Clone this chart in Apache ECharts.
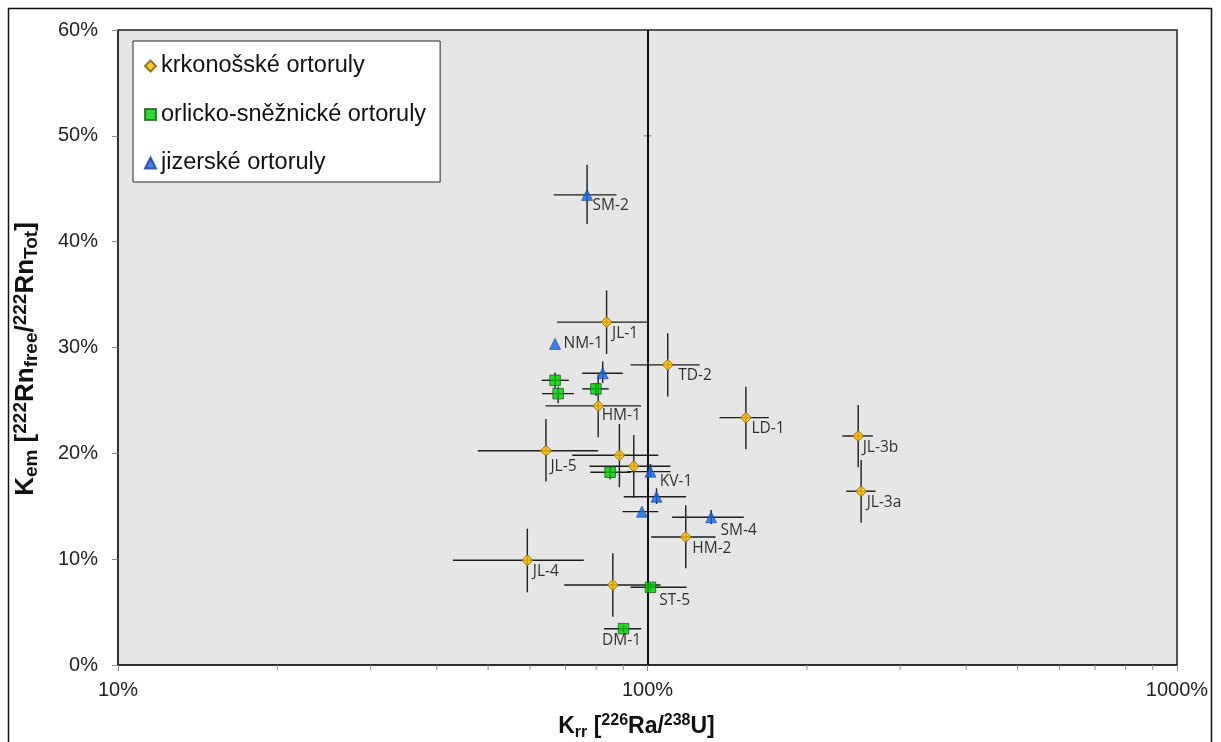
<!DOCTYPE html>
<html>
<head>
<meta charset="utf-8">
<script src="https://cdn.jsdelivr.net/npm/echarts@6/dist/echarts.min.js"></script>
<style>
  html, body { margin: 0; padding: 0; background: #fff; }
  #chart { width: 1221px; height: 742px; }
</style>
</head>
<body>
<div id="chart"></div>
<script>
// K_rr = 226Ra/238U (fraction), K_em = emanation coefficient (%)
// Each sample: centre value plus [low, high] uncertainty range (null = none)

// krkonošské ortoruly
const krkNames   = ['JL-1', 'TD-2', 'HM-1', 'LD-1', 'JL-3b', 'JL-3a', 'JL-5', '', '', 'HM-2', 'JL-4', ''];
const krkRr      = [0.837, 1.092, 0.807, 1.534, 2.50, 2.532, 0.643, 0.885, 0.942, 1.181, 0.593, 0.860];
const krkEm      = [32.4, 28.36, 24.48, 23.37, 21.64, 16.42, 20.25, 19.82, 18.78, 12.1, 9.9, 7.56];
const krkRrRange = [[0.675, 1.006], [0.929, 1.255], [0.642, 0.973], [1.368, 1.695], [2.332, 2.664], [2.373, 2.696],
                    [0.478, 0.807], [0.721, 1.048], [0.777, 1.105], [1.016, 1.344], [0.429, 0.758], [0.696, 1.058]];
const krkEmRange = [[29.4, 35.4], [25.36, 31.35], [21.52, 27.44], [20.39, 26.3], [18.69, 24.57], [13.45, 19.38],
                    [17.33, 23.25], [16.8, 22.78], [15.81, 21.74], [9.14, 15.09], [6.87, 12.88], [4.57, 10.56]];

// orlicko-sněžnické ortoruly
const orlNames   = ['', '', '', '', 'ST-5', 'DM-1'];
const orlRr      = [0.669, 0.678, 0.799, 0.850, 1.013, 0.901];
const orlEm      = [26.9, 25.64, 26.09, 18.21, 7.34, 3.43];
const orlRrRange = [[0.631, 0.710], [0.632, 0.726], [0.753, 0.845], [0.780, 0.929], [0.929, 1.185], [0.828, 0.973]];
const orlEmRange = [[26.15, 27.63], [24.73, 26.3], [25.43, 26.65], [17.55, 18.74], [7.0, 7.7], [3.1, 3.8]];

// jizerské ortoruly
const jizNames   = ['SM-2', 'NM-1', '', 'KV-1', '', '', 'SM-4'];
const jizRr      = [0.769, 0.669, 0.823, 1.013, 1.040, 0.976, 1.319];
const jizEm      = [44.42, 30.34, 27.57, 18.27, 15.9, 14.49, 13.96];
const jizRrRange = [[0.665, 0.874], null, [0.753, 0.898], [0.916, 1.105], [0.902, 1.183], [0.897, 1.048], [1.113, 1.520]];
const jizEmRange = [[41.68, 47.26], null, [26.65, 28.67], [17.8, 19.0], [15.22, 16.7], null, [13.33, 14.65]];

// axis ticks
const xMajorTicks = [0.1, 1, 10];
const xMinorTicks = [0.2, 0.3, 0.4, 0.5, 0.6, 0.7, 0.8, 0.9, 2, 3, 4, 5, 6, 7, 8, 9];
const yMax = 60, yStep = 10;
// reference line K_rr = 100 % and its tick marks
const equilibriumRr = 1;
const equilibriumTicks = [50];

// label placement tweaks per sample (pixels)
const labelNudge = {
  'NM-1': { position: 'right', offset: [2.5, 0] },
  'DM-1': { position: 'bottom', offset: [-2, -1.5] },
  'JL-5': { offset: [-1.5, 16] },
  'KV-1': { offset: [3.5, 10] },
  'TD-2': { offset: [4.5, 11] },
  'SM-4': { offset: [3.5, 13] },
  'ST-5': { offset: [3, 13] },
  'HM-2': { offset: [0.5, 12] },
  'HM-1': { offset: [-2.5, 10] },
  'JL-3b': { offset: [-1.5, 12] }
};

const C_KRK = '#FFC000', C_ORL = '#00CC00', C_JIZ = '#1466E6';
const LABEL_FONT = '"Open Sans", Lato, sans-serif';
const SANS = '"Liberation Sans", Arial, sans-serif';

function points(names, xs, ys) {
  return xs.map((x, i) => {
    const n = names[i];
    const item = { name: n, value: [x, ys[i]] };
    if (n) {
      const nudge = labelNudge[n] || {};
      item.label = {
        show: true,
        formatter: n,
        position: nudge.position || 'right',
        distance: 0,
        offset: nudge.offset || [-0.5, 11]
      };
    }
    return item;
  });
}

function bars(xs, ys, xr, yr) {
  const out = [];
  xs.forEach((x, i) => {
    const a = xr[i], b = yr[i];
    if (!a && !b) return;
    out.push([x, ys[i], a ? a[0] : x, a ? a[1] : x, b ? b[0] : ys[i], b ? b[1] : ys[i]]);
  });
  return out;
}

function renderBars(params, api) {
  const x = api.value(0), y = api.value(1);
  const xl = api.value(2), xh = api.value(3), yl = api.value(4), yh = api.value(5);
  const style = { stroke: '#1c1c1c', lineWidth: 1.4 };
  const kids = [];
  if (xl !== xh) {
    const p1 = api.coord([xl, y]), p2 = api.coord([xh, y]);
    kids.push({ type: 'line', shape: { x1: p1[0], y1: p1[1], x2: p2[0], y2: p2[1] }, style });
  }
  if (yl !== yh) {
    const p1 = api.coord([x, yl]), p2 = api.coord([x, yh]);
    kids.push({ type: 'line', shape: { x1: p1[0], y1: p1[1], x2: p2[0], y2: p2[1] }, style });
  }
  return { type: 'group', children: kids };
}

function renderMinorTick(params, api) {
  const p = api.coord([api.value(0), 0]);
  return {
    type: 'line',
    shape: { x1: p[0], y1: p[1], x2: p[0], y2: p[1] + 5 },
    style: { stroke: '#8c8c8c', lineWidth: 1 }
  };
}

function renderCrossTick(params, api) {
  const p = api.coord([api.value(0), api.value(1)]);
  return {
    type: 'line',
    shape: { x1: p[0] - 4, y1: p[1], x2: p[0] + 4, y2: p[1] },
    style: { stroke: '#8c8c8c', lineWidth: 1.2 }
  };
}

const scatterLabel = {
  fontFamily: LABEL_FONT,
  fontSize: 15.5,
  color: '#000'
};

function titleRich(big, small, lh) {
  return {
    b:   { fontFamily: SANS, fontWeight: 'bold', fontSize: big,   color: '#111', verticalAlign: 'middle', lineHeight: lh },
    sub: { fontFamily: SANS, fontWeight: 'bold', fontSize: small, color: '#111', verticalAlign: 'bottom', lineHeight: lh },
    sup: { fontFamily: SANS, fontWeight: 'bold', fontSize: small, color: '#111', verticalAlign: 'top',    lineHeight: lh }
  };
}

const chart = echarts.init(document.getElementById('chart'));
chart.setOption({
  animation: false,
  backgroundColor: '#ffffff',
  graphic: [{
    type: 'rect',
    shape: { x: 8.5, y: 8.5, width: 1203, height: 745 },
    style: { fill: 'none', stroke: '#111', lineWidth: 1.5 },
    silent: true,
    z: -1
  }],
  grid: {
    left: 118, right: 44, top: 30, bottom: 77,
    containLabel: false,
    outerBoundsMode: 'none',
    show: true,
    backgroundColor: '#E6E6E6',
    borderColor: '#222',
    borderWidth: 1.5
  },
  legend: {
    data: ['krkonošské ortoruly', 'orlicko-sněžnické ortoruly', 'jizerské ortoruly'],
    orient: 'vertical',
    left: 133, top: 41,
    padding: [13, 14, 7, 11],
    itemWidth: 11, itemHeight: 11,
    itemGap: 24.5,
    backgroundColor: '#fff',
    borderColor: '#222',
    borderWidth: 1,
    textStyle: { fontFamily: SANS, fontSize: 23.5, color: '#111' }
  },
  xAxis: {
    type: 'log',
    logBase: 10,
    min: xMajorTicks[0],
    max: xMajorTicks[xMajorTicks.length - 1],
    name: '{b|K}{sub|rr}{b| [}{sup|226}{b|Ra/}{sup|238}{b|U]}',
    nameLocation: 'middle',
    nameGap: 48,
    nameTextStyle: { padding: [0, 22, 0, 0], rich: titleRich(23, 16, 28) },
    axisLine: { show: true, lineStyle: { color: '#222', width: 1.5 } },
    axisTick: { show: true, length: 6, lineStyle: { color: '#8c8c8c' } },
    axisLabel: {
      margin: 15,
      fontFamily: SANS,
      fontSize: 20,
      color: '#222',
      formatter: v => Math.round(v * 100) + '%'
    },
    splitLine: { show: false }
  },
  yAxis: {
    type: 'value',
    min: 0, max: yMax, interval: yStep,
    name: '{b|K}{sub|em}{b| [}{sup|222}{b|Rn}{sub|free}{b|/}{sup|222}{b|Rn}{sub|Tot}{b|]}',
    nameLocation: 'middle',
    nameRotate: 90,
    nameGap: 77,
    nameTextStyle: { padding: [0, 23, 0, 0], rich: titleRich(26, 19, 30) },
    axisLine: { show: true, lineStyle: { color: '#222', width: 1.5 } },
    axisTick: { show: true, length: 6, lineStyle: { color: '#8c8c8c' } },
    axisLabel: {
      margin: 20,
      fontFamily: SANS,
      fontSize: 20,
      color: '#222',
      formatter: '{value}%'
    },
    splitLine: { show: false }
  },
  series: [
    {
      type: 'custom',
      name: 'minor ticks',
      renderItem: renderMinorTick,
      data: xMinorTicks.map(v => [v, 0]),
      encode: { x: 0, y: 1 },
      clip: false,
      silent: true,
      z: 1
    },
    {
      type: 'custom',
      name: 'cross ticks',
      renderItem: renderCrossTick,
      data: equilibriumTicks.map(v => [equilibriumRr, v]),
      encode: { x: 0, y: 1 },
      silent: true,
      z: 1
    },
    {
      type: 'custom',
      name: 'errKrk',
      renderItem: renderBars,
      data: bars(krkRr, krkEm, krkRrRange, krkEmRange),
      encode: { x: 0, y: 1 },
      silent: true,
      z: 2,
      markLine: {
        silent: true,
        symbol: 'none',
        label: { show: false },
        lineStyle: { color: '#111', width: 2, type: 'solid' },
        data: [{ xAxis: equilibriumRr }]
      }
    },
    {
      type: 'custom',
      name: 'errOrl',
      renderItem: renderBars,
      data: bars(orlRr, orlEm, orlRrRange, orlEmRange),
      encode: { x: 0, y: 1 },
      silent: true,
      z: 2
    },
    {
      type: 'custom',
      name: 'errJiz',
      renderItem: renderBars,
      data: bars(jizRr, jizEm, jizRrRange, jizEmRange),
      encode: { x: 0, y: 1 },
      silent: true,
      z: 2
    },
    {
      type: 'scatter',
      name: 'krkonošské ortoruly',
      symbol: 'diamond',
      symbolSize: 11,
      itemStyle: { color: C_KRK, borderColor: '#7a5a00', borderWidth: 1 },
      label: scatterLabel,
      data: points(krkNames, krkRr, krkEm),
      z: 5
    },
    {
      type: 'scatter',
      name: 'orlicko-sněžnické ortoruly',
      symbol: 'rect',
      symbolSize: 10.5,
      itemStyle: { color: C_ORL, borderColor: '#1d5f1d', borderWidth: 1 },
      label: scatterLabel,
      data: points(orlNames, orlRr, orlEm),
      z: 5
    },
    {
      type: 'scatter',
      name: 'jizerské ortoruly',
      symbol: 'triangle',
      symbolSize: 11,
      itemStyle: { color: C_JIZ, borderColor: '#1a3f8a', borderWidth: 0.8 },
      label: scatterLabel,
      data: points(jizNames, jizRr, jizEm),
      z: 5
    }
  ]
});
</script>
</body>
</html>
